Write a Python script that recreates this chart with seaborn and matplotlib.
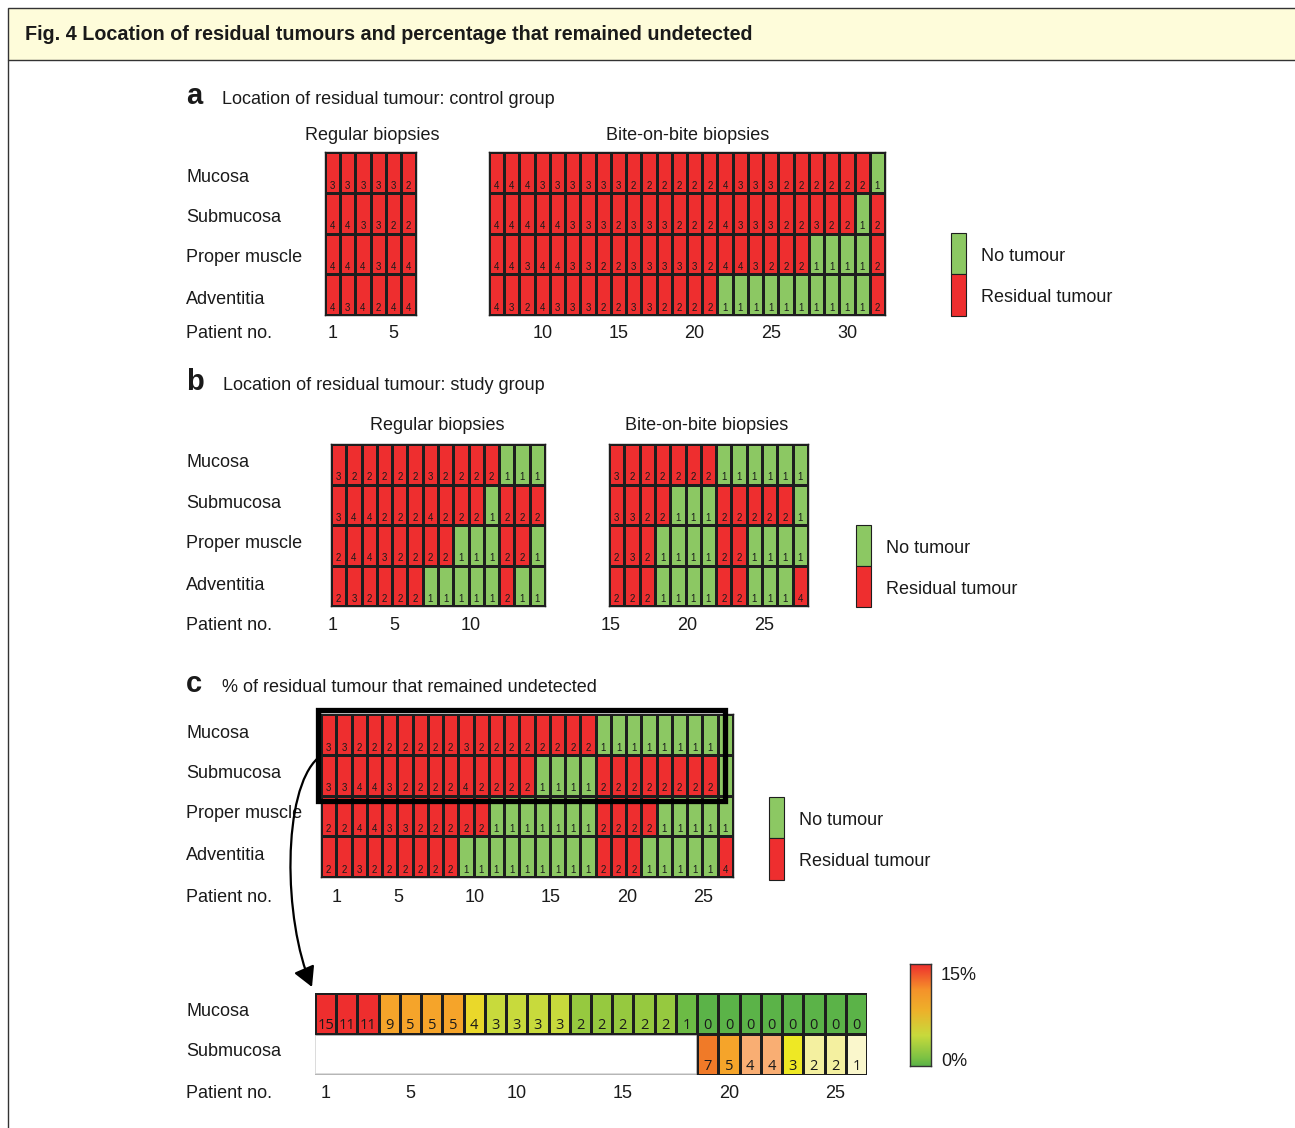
import numpy as np
import pandas as pd
import matplotlib
matplotlib.use("Agg")
import matplotlib.pyplot as plt
import seaborn as sns
from matplotlib.colors import ListedColormap, LinearSegmentedColormap
from matplotlib.patches import Rectangle, FancyArrowPatch
from matplotlib.path import Path
from matplotlib.lines import Line2D
import matplotlib.transforms as mtransforms

# ---------------- data ----------------
rows4 = ["Mucosa", "Submucosa", "Proper muscle", "Adventitia"]
rows2 = ["Mucosa", "Submucosa"]

# panel a: control group (regular biopsies: patients 1-6, bite-on-bite: 7-32)
a_reg_mucosa = [3, 3, 3, 3, 3, 2]
a_reg_submucosa = [4, 4, 3, 3, 2, 2]
a_reg_muscle = [4, 4, 4, 3, 4, 4]
a_reg_adventitia = [4, 3, 4, 2, 4, 4]
a_bite_mucosa = [4, 4, 4, 3, 3, 3, 3, 3, 3, 2, 2, 2, 2, 2, 2, 4, 3, 3, 3, 2, 2, 2, 2, 2, 2, 1]
a_bite_submucosa = [4, 4, 4, 4, 4, 3, 3, 3, 2, 3, 3, 3, 2, 2, 2, 4, 3, 3, 3, 2, 2, 3, 2, 2, 1, 2]
a_bite_muscle = [4, 4, 3, 4, 4, 3, 3, 2, 2, 3, 3, 3, 3, 3, 2, 4, 4, 3, 2, 2, 2, 1, 1, 1, 1, 2]
a_bite_adventitia = [4, 3, 2, 4, 3, 3, 3, 2, 2, 3, 3, 2, 2, 2, 2, 1, 1, 1, 1, 1, 1, 1, 1, 1, 1, 2]
a_reg_first, a_bite_first = 1, 7
a_ticks = [1, 5, 10, 15, 20, 25, 30]

# panel b: study group (regular: patients 1-14, bite-on-bite: 15-27)
b_reg_mucosa = [3, 2, 2, 2, 2, 2, 3, 2, 2, 2, 2, 1, 1, 1]
b_reg_submucosa = [3, 4, 4, 2, 2, 2, 4, 2, 2, 2, 1, 2, 2, 2]
b_reg_muscle = [2, 4, 4, 3, 2, 2, 2, 2, 1, 1, 1, 2, 2, 1]
b_reg_adventitia = [2, 3, 2, 2, 2, 2, 1, 1, 1, 1, 1, 2, 1, 1]
b_bite_mucosa = [3, 2, 2, 2, 2, 2, 2, 1, 1, 1, 1, 1, 1]
b_bite_submucosa = [3, 3, 2, 2, 1, 1, 1, 2, 2, 2, 2, 2, 1]
b_bite_muscle = [2, 3, 2, 1, 1, 1, 1, 2, 2, 1, 1, 1, 1]
b_bite_adventitia = [2, 2, 2, 1, 1, 1, 1, 2, 2, 1, 1, 1, 4]
b_reg_first, b_bite_first = 1, 15
b_ticks_reg = [1, 5, 10]
b_ticks_bite = [15, 20, 25]

# panel c: combined study group (patients 1-27)
c_mucosa = [3, 3, 2, 2, 2, 2, 2, 2, 2, 3, 2, 2, 2, 2, 2, 2, 2, 2, 1, 1, 1, 1, 1, 1, 1, 1, 1]
c_submucosa = [3, 3, 4, 4, 3, 2, 2, 2, 2, 4, 2, 2, 2, 2, 1, 1, 1, 1, 2, 2, 2, 2, 2, 2, 2, 2, 1]
c_muscle = [2, 2, 4, 4, 3, 3, 2, 2, 2, 2, 2, 1, 1, 1, 1, 1, 1, 1, 2, 2, 2, 2, 1, 1, 1, 1, 1]
c_adventitia = [2, 2, 3, 2, 2, 2, 2, 2, 2, 1, 1, 1, 1, 1, 1, 1, 1, 1, 2, 2, 2, 1, 1, 1, 1, 1, 4]
c_ticks = [1, 5, 10, 15, 20, 25]

# bottom: % undetected (patients 1-26)
d_mucosa = [15, 11, 11, 9, 5, 5, 5, 4, 3, 3, 3, 3, 2, 2, 2, 2, 2, 1, 0, 0, 0, 0, 0, 0, 0, 0]
d_submucosa = [None] * 18 + [7, 5, 4, 4, 3, 2, 2, 1]
d_ticks = [1, 5, 10, 15, 20, 25]

# ---------------- style ----------------
W, H = 1295, 1128
RED = "#EE2E2F"
GREEN = "#8CC863"
GRID = "#1E1E1E"
TXT = "#1A1A1A"
FS = 13
DY = 2  # visual vertical correction for va='center'
d_col_mucosa = {15: "#EE2E2E", 11: "#EE2E2E", 9: "#F5A42A", 5: "#F5A42A", 4: "#EAD82A",
                3: "#C8DA3C", 2: "#96C93F", 1: "#6CBB45", 0: "#5BB348"}
d_col_sub = {7: "#F07A28", 5: "#F5A42A", 4: "#F9AE73", 3: "#EEE824", 2: "#F4F0A0", 1: "#FAF7CC"}

sns.set_theme(style="white")
plt.rcParams['font.family'] = ['Liberation Sans', 'DejaVu Sans']

fig = plt.figure(figsize=(W / 100, H / 100), dpi=100)
fig.patch.set_facecolor("white")


def fx(x):
    return x / W


def fy(y):
    return 1 - y / H


def ax_px(x0, y0, x1, y1):
    return fig.add_axes([x0 / W, 1 - y1 / H, (x1 - x0) / W, (y1 - y0) / H])


def ftext(x, y, s, **kw):
    kw.setdefault("color", TXT)
    kw.setdefault("va", "center")
    kw.setdefault("ha", "left")
    kw.setdefault("fontsize", FS)
    fig.text(fx(x), fy(y + DY), s, **kw)


def status_grid(box, values, first, ticks, tick_y, tick_off=0.0):
    ax = ax_px(*box)
    ncol = len(values[0])
    cols = list(range(first, first + ncol))
    df = pd.DataFrame(values, index=rows4[:len(values)], columns=cols)
    sns.heatmap((df > 1).astype(int), ax=ax, cmap=ListedColormap([GREEN, RED]), vmin=0, vmax=1,
                cbar=False, linewidths=0.9, linecolor=GRID, xticklabels=False, yticklabels=False)
    for i in range(df.shape[0]):
        for j in range(ncol):
            ax.text(j + 0.5, i + 0.9, str(df.iat[i, j]), ha="center", va="baseline",
                    fontsize=7, color=TXT)
    for s in ax.spines.values():
        s.set_visible(True)
        s.set_color(GRID)
        s.set_linewidth(1.0)
    tr = mtransforms.blended_transform_factory(ax.transData, fig.transFigure)
    for t in ticks:
        ax.text(t - first + 0.5 + tick_off, fy(tick_y + DY), str(t), transform=tr, ha="center",
                va="center", fontsize=FS, color=TXT)
    return ax


def legend(x, y0, y1, y2):
    fig.add_artist(Rectangle((fx(x), fy(y1)), 15 / W, (y1 - y0) / H, transform=fig.transFigure,
                             facecolor=GREEN, edgecolor=GRID, lw=0.8))
    fig.add_artist(Rectangle((fx(x), fy(y2)), 15 / W, (y2 - y1) / H, transform=fig.transFigure,
                             facecolor=RED, edgecolor=GRID, lw=0.8))
    ftext(x + 30, (y0 + y1) / 2 + 1, "No tumour")
    ftext(x + 30, (y1 + y2) / 2 + 1, "Residual tumour")


# ---------------- frame & header ----------------
fig.add_artist(Rectangle((fx(8), fy(60)), (1300 - 8) / W, 52 / H, transform=fig.transFigure,
                         facecolor="#FEFCDA", edgecolor="#333333", lw=1.0))
fig.add_artist(Line2D([fx(8), fx(8)], [fy(60), fy(1130)], transform=fig.transFigure,
                      color="#333333", lw=1.0))
ftext(25, 33, "Fig. 4 Location of residual tumours and percentage that remained undetected",
      fontsize=14.2, fontweight="bold")

# ---------------- panel a ----------------
ftext(186, 94, "a", fontsize=21, fontweight="bold")
ftext(222, 97, "Location of residual tumour: control group")
ftext(372, 133, "Regular biopsies", ha="center")
ftext(688, 133, "Bite-on-bite biopsies", ha="center")
for lab, y in zip(rows4 + ["Patient no."], [175, 216, 256, 297, 332]):
    ftext(186, y, lab)
status_grid((325, 152, 416, 315),
            [a_reg_mucosa, a_reg_submucosa, a_reg_muscle, a_reg_adventitia],
            a_reg_first, [t for t in a_ticks if t < a_bite_first], 332)
status_grid((489, 152, 885, 315),
            [a_bite_mucosa, a_bite_submucosa, a_bite_muscle, a_bite_adventitia],
            a_bite_first, [t for t in a_ticks if t >= a_bite_first], 332)
legend(951, 233, 274, 316)

# ---------------- panel b ----------------
ftext(186, 380, "b", fontsize=21, fontweight="bold")
ftext(223, 384, "Location of residual tumour: study group")
ftext(437, 424, "Regular biopsies", ha="center")
ftext(707, 424, "Bite-on-bite biopsies", ha="center")
for lab, y in zip(rows4 + ["Patient no."], [461, 502, 542, 583, 623]):
    ftext(186, y, lab)
status_grid((331, 444, 545, 606),
            [b_reg_mucosa, b_reg_submucosa, b_reg_muscle, b_reg_adventitia],
            b_reg_first, b_ticks_reg, 623, tick_off=-0.37)
status_grid((609, 444, 808, 606),
            [b_bite_mucosa, b_bite_submucosa, b_bite_muscle, b_bite_adventitia],
            b_bite_first, b_ticks_bite, 623, tick_off=-0.37)
legend(856, 525, 566, 607)

# ---------------- panel c ----------------
ftext(186, 682, "c", fontsize=21, fontweight="bold")
ftext(222, 685, "% of residual tumour that remained undetected")
for lab, y in zip(rows4 + ["Patient no."], [732, 772, 812, 853, 896]):
    ftext(186, y, lab)
status_grid((321, 714, 733, 877), [c_mucosa, c_submucosa, c_muscle, c_adventitia],
            1, c_ticks, 896, tick_off=0.55)
legend(769, 797, 838, 880)
fig.add_artist(Rectangle((fx(318), fy(800.5)), (724.5 - 318) / W, (800.5 - 710) / H,
                         transform=fig.transFigure, facecolor="none", edgecolor="black",
                         lw=3.8, zorder=20))

# arrow
verts = [(318, 758), (282, 790), (283, 920), (312, 987)]
verts = [(fx(x), fy(y)) for x, y in verts]
arrow = FancyArrowPatch(path=Path(verts, [Path.MOVETO, Path.CURVE4, Path.CURVE4, Path.CURVE4]),
                        transform=fig.transFigure, arrowstyle="-|>,head_length=1.0,head_width=0.55",
                        mutation_scale=12, lw=1.6, color="black", zorder=20)
fig.add_artist(arrow)

# ---------------- bottom heat strip ----------------
for lab, y in zip(rows2 + ["Patient no."], [1010, 1050, 1092]):
    ftext(186, y, lab)
palette = []
for c in list(d_col_mucosa.values()) + list(d_col_sub.values()):
    if c not in palette:
        palette.append(c)
idx = np.full((2, len(d_mucosa)), np.nan)
for j, v in enumerate(d_mucosa):
    idx[0, j] = palette.index(d_col_mucosa[v])
for j, v in enumerate(d_submucosa):
    if v is not None:
        idx[1, j] = palette.index(d_col_sub[v])
ax_d = ax_px(315, 993, 867, 1075)
sns.heatmap(pd.DataFrame(idx, index=rows2), ax=ax_d, cmap=ListedColormap(palette),
            vmin=-0.5, vmax=len(palette) - 0.5, mask=np.isnan(idx), cbar=False,
            linewidths=0.9, linecolor=GRID, xticklabels=False, yticklabels=False)
ax_d.set_facecolor("white")
for s in ax_d.spines.values():
    s.set_visible(False)
n_blank = sum(v is None for v in d_submucosa)
ax_d.add_patch(Rectangle((0.02, 1.02), n_blank - 0.04, 0.96, facecolor="white",
                         edgecolor="#D5D5D5", lw=1.2, zorder=3))
ax_d.add_patch(Rectangle((0, 0), len(d_mucosa), 1, facecolor="none", edgecolor=GRID, lw=1.0,
                         zorder=4))
ax_d.add_patch(Rectangle((n_blank, 1), len(d_mucosa) - n_blank, 1, facecolor="none",
                         edgecolor=GRID, lw=1.0, zorder=4))
for i, rowvals in enumerate([d_mucosa, d_submucosa]):
    for j, v in enumerate(rowvals):
        if v is not None:
            ax_d.text(j + 0.5, i + 0.88, str(v), ha="center", va="baseline", fontsize=10.5,
                      color=TXT, family=["Open Sans", "DejaVu Sans"], zorder=5)
tr = mtransforms.blended_transform_factory(ax_d.transData, fig.transFigure)
for t in d_ticks:
    ax_d.text(t - 0.5, fy(1092 + DY), str(t), transform=tr, ha="center", va="center",
              fontsize=FS, color=TXT)

# colour bar
ax_cb = ax_px(910, 964, 931, 1066)
cb_cmap = LinearSegmentedColormap.from_list(
    "undet", [(0, "#5BB348"), (0.08, "#7DC244"), (0.3, "#C8DA3C"), (0.55, "#EEB02A"),
              (0.75, "#F5922A"), (1, "#EE2E2E")])
ax_cb.imshow(np.linspace(1, 0, 256).reshape(-1, 1), aspect="auto", cmap=cb_cmap,
             extent=(0, 1, 0, 1))
ax_cb.set_xticks([])
ax_cb.set_yticks([])
for s in ax_cb.spines.values():
    s.set_visible(True)
    s.set_color("#333333")
    s.set_linewidth(1.0)
ftext(941, 973, "15%")
ftext(941, 1060, "0%")

fig.savefig("out.png", dpi=100, facecolor="white")
